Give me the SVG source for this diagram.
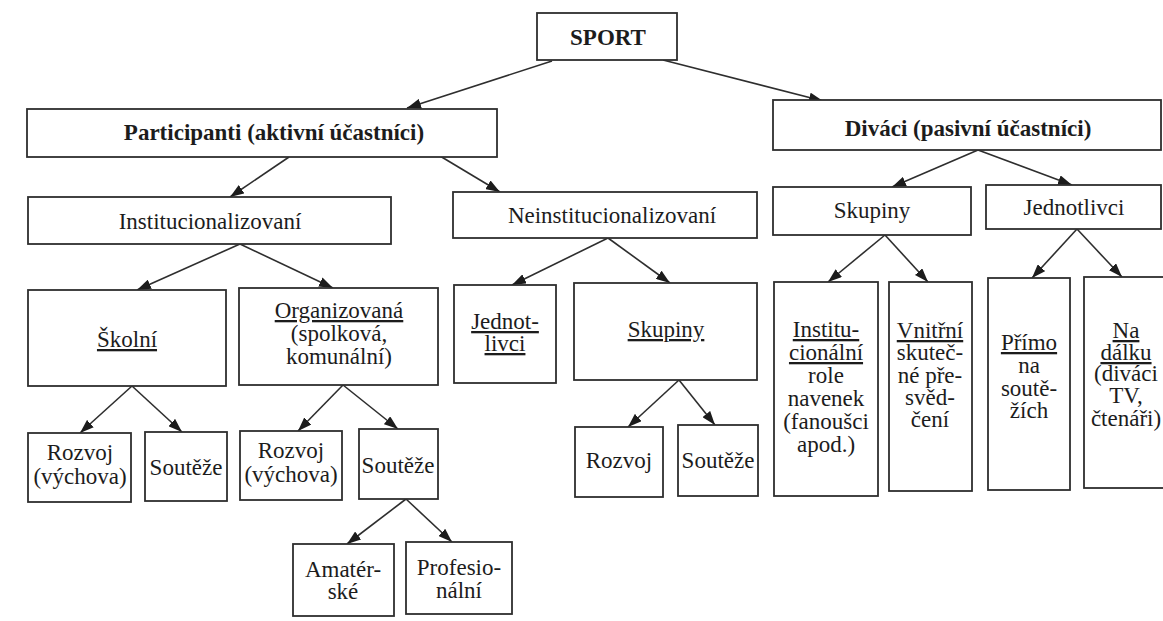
<svg xmlns="http://www.w3.org/2000/svg" width="1163" height="621" viewBox="0 0 1163 621">
<style>
rect.b{fill:#fff;stroke:#2e2e2e;stroke-width:1.8}
text{font-family:"Liberation Serif","Times New Roman",serif;font-size:23px;fill:#1c1c1c;text-anchor:middle}
text.bd{font-weight:bold}
.u{text-decoration:underline}
#connectors line{stroke:#2e2e2e;stroke-width:1.6;marker-end:url(#ah)}
</style>
<defs>
<marker id="ah" markerUnits="userSpaceOnUse" viewBox="0 0 14 10" refX="14" refY="5" markerWidth="14" markerHeight="10" orient="auto">
<path d="M0,0 L14,5 L0,10 z" fill="#1c1c1c"/>
</marker>
</defs>
<rect width="1163" height="621" fill="#fff"/>
<g id="connectors">
<line x1="552" y1="61" x2="407" y2="108"/>
<line x1="663" y1="60" x2="823" y2="101"/>
<line x1="289" y1="157" x2="230" y2="197"/>
<line x1="440" y1="156" x2="500" y2="192"/>
<line x1="978" y1="150" x2="892" y2="187"/>
<line x1="978" y1="150" x2="1072" y2="185"/>
<line x1="240" y1="244" x2="137" y2="290"/>
<line x1="240" y1="244" x2="333" y2="288"/>
<line x1="608" y1="238" x2="512" y2="285"/>
<line x1="608" y1="238" x2="670" y2="283"/>
<line x1="885" y1="235" x2="828" y2="282"/>
<line x1="885" y1="235" x2="928" y2="282"/>
<line x1="1077" y1="229" x2="1032" y2="278"/>
<line x1="1077" y1="229" x2="1122" y2="277"/>
<line x1="132" y1="386" x2="80" y2="433"/>
<line x1="132" y1="386" x2="182" y2="432"/>
<line x1="343" y1="385" x2="298" y2="431"/>
<line x1="343" y1="385" x2="398" y2="429"/>
<line x1="406" y1="499" x2="347" y2="544"/>
<line x1="406" y1="499" x2="452" y2="542"/>
<line x1="679" y1="380" x2="628" y2="427"/>
<line x1="679" y1="380" x2="715" y2="425"/>
</g>
<g id="sport"><rect class="b" x="537" y="13" width="140" height="47"/><text class="bd" x="608" y="45">SPORT</text></g>
<g id="participanti"><rect class="b" x="27" y="109" width="470" height="48"/><text class="bd" x="274" y="140">Participanti (aktivní účastníci)</text></g>
<g id="divaci"><rect class="b" x="773" y="100" width="388" height="50"/><text class="bd" x="968" y="136">Diváci (pasivní účastníci)</text></g>
<g id="institucionalizovani"><rect class="b" x="28" y="197" width="363" height="47"/><text x="210" y="229">Institucionalizovaní</text></g>
<g id="neinstitucionalizovani"><rect class="b" x="453" y="192" width="304" height="46"/><text x="612" y="223">Neinstitucionalizovaní</text></g>
<g id="skupiny-divaci"><rect class="b" x="773" y="187" width="198" height="48"/><text x="872" y="218">Skupiny</text></g>
<g id="jednotlivci-divaci"><rect class="b" x="986" y="185" width="175" height="44"/><text x="1074" y="215">Jednotlivci</text></g>
<g id="skolni"><rect class="b" x="28" y="290" width="198" height="96"/><text class="u" x="127" y="347">Školní</text></g>
<g id="organizovana"><rect class="b" x="239" y="288" width="199" height="97"/><text x="339" y="318" class="u">Organizovaná</text><text x="339" y="341">(spolková,</text><text x="339" y="364">komunální)</text></g>
<g id="jednotlivci-part"><rect class="b" x="454" y="285" width="102" height="98"/><text class="u" x="505" y="329">Jednot-</text><text class="u" x="505" y="351">livci</text></g>
<g id="skupiny-part"><rect class="b" x="574" y="283" width="183" height="97"/><text class="u" x="666" y="337">Skupiny</text></g>
<g id="institucionalni-role"><rect class="b" x="774" y="282" width="104" height="214"/><text class="u" x="826" y="337">Institu-</text><text class="u" x="826" y="360">cionální</text><text x="826" y="383">role</text><text x="826" y="406">navenek</text><text x="826" y="429">(fanoušci</text><text x="826" y="452">apod.)</text></g>
<g id="vnitrni"><rect class="b" x="889" y="282" width="83" height="209"/><text class="u" x="930" y="338">Vnitřní</text><text x="930" y="360">skuteč-</text><text x="930" y="383">né pře-</text><text x="930" y="405">svěd-</text><text x="930" y="427">čení</text></g>
<g id="primo"><rect class="b" x="988" y="278" width="82" height="212"/><text class="u" x="1029" y="350">Přímo</text><text x="1029" y="373">na</text><text x="1029" y="396">soutě-</text><text x="1029" y="418">žích</text></g>
<g id="na-dalku"><rect class="b" x="1084" y="277" width="90" height="211"/><text class="u" x="1126" y="338">Na</text><text class="u" x="1126" y="360">dálku</text><text x="1126" y="381">(diváci</text><text x="1126" y="403">TV,</text><text x="1126" y="426">čtenáři)</text></g>
<g id="rozvoj-skolni"><rect class="b" x="28" y="433" width="103" height="69"/><text x="80" y="460">Rozvoj</text><text x="80" y="484">(výchova)</text></g>
<g id="souteze-skolni"><rect class="b" x="145" y="432" width="82" height="69"/><text x="186" y="475">Soutěže</text></g>
<g id="rozvoj-org"><rect class="b" x="240" y="431" width="102" height="69"/><text x="291" y="458">Rozvoj</text><text x="291" y="482">(výchova)</text></g>
<g id="souteze-org"><rect class="b" x="359" y="429" width="79" height="70"/><text x="398" y="473">Soutěže</text></g>
<g id="rozvoj-skup"><rect class="b" x="575" y="427" width="88" height="70"/><text x="619" y="468">Rozvoj</text></g>
<g id="souteze-skup"><rect class="b" x="678" y="425" width="80" height="71"/><text x="718" y="468">Soutěže</text></g>
<g id="amaterske"><rect class="b" x="293" y="544" width="101" height="72"/><text x="343" y="577">Amatér-</text><text x="343" y="599">ské</text></g>
<g id="profesionalni"><rect class="b" x="406" y="542" width="106" height="72"/><text x="459" y="575">Profesio-</text><text x="459" y="598">nální</text></g>
</svg>
